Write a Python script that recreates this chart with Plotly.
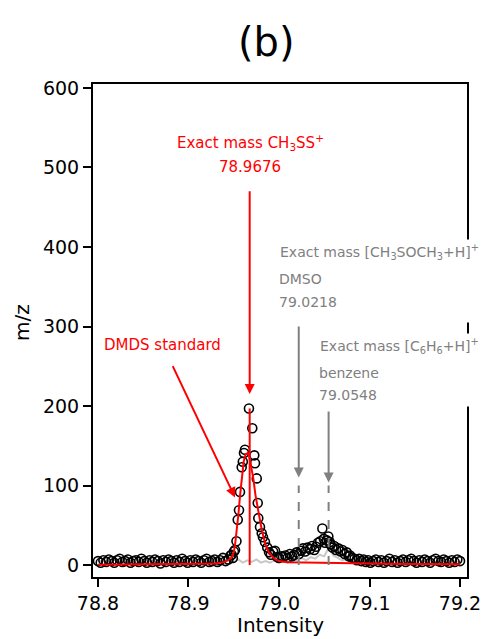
import plotly.graph_objects as go

# ---------------- data ----------------
# measured spectrum (open circles)
meas_mz = [
    78.800, 78.803, 78.806, 78.809, 78.812, 78.815, 78.818, 78.821, 78.824, 78.827,
    78.830, 78.833, 78.836, 78.839, 78.842, 78.845, 78.848, 78.851, 78.854, 78.857,
    78.860, 78.863, 78.866, 78.869, 78.872, 78.875, 78.878, 78.881, 78.884, 78.887,
    78.890, 78.893, 78.896, 78.899, 78.902, 78.905, 78.908, 78.911, 78.914, 78.917,
    78.920, 78.923, 78.926, 78.929, 78.932, 78.935, 78.938, 78.941, 78.944,
    78.9465, 78.9477, 78.9490, 78.9502, 78.9514, 78.9530, 78.9544, 78.9558, 78.9569,
    78.9588, 78.9600, 78.9613, 78.9624, 78.9668, 78.9705, 78.9727, 78.9735, 78.9754,
    78.9765, 78.9771, 78.9790, 78.9809, 78.9823, 78.9845, 78.9870, 78.9890, 78.9910,
    78.9935, 78.9956, 78.9980, 79.0000, 79.0025, 79.0045, 79.0070, 79.0095, 79.0120,
    79.0145, 79.0170, 79.0195, 79.0220, 79.0245, 79.0265, 79.0290, 79.0315, 79.0343,
    79.0365, 79.0390, 79.0410, 79.0431, 79.0455, 79.0479, 79.0495, 79.0508, 79.0530,
    79.0545, 79.0560, 79.0569, 79.0590, 79.0610, 79.0630, 79.0655, 79.0680, 79.0700,
    79.0725, 79.0748, 79.0770, 79.0785, 79.0810, 79.0835, 79.0860, 79.0885, 79.0910,
    79.0935, 79.0960, 79.0985, 79.101, 79.104, 79.107, 79.110, 79.113, 79.116, 79.119,
    79.122, 79.125, 79.128, 79.131, 79.134, 79.137, 79.140, 79.143, 79.146, 79.149,
    79.152, 79.155, 79.158, 79.161, 79.164, 79.167, 79.170, 79.173, 79.176, 79.179,
    79.182, 79.185, 79.188, 79.191, 79.194, 79.197, 79.200,
]
meas_int = [
    5, 3, 6, 4, 7, 5, 3, 6, 8, 4,
    5, 7, 3, 5, 6, 4, 8, 5, 3, 6,
    4, 7, 5, 2, 6, 4, 7, 5, 3, 6,
    4, 8, 5, 3, 6, 4, 7, 5, 3, 6,
    8, 4, 5, 7, 4, 6, 9, 5, 7,
    12, 13, 9, 17, 19, 30, 57, 69, 92,
    123, 130, 141, 145, 197, 172, 138, 128, 109,
    78, 59, 48, 40, 35, 29, 22, 16, 13,
    17, 18, 10, 9, 11, 10, 12, 9, 14,
    11, 13, 16, 14, 18, 21, 17, 22, 20,
    24, 19, 23, 28, 30, 46, 33, 28, 31,
    36, 29, 26, 22, 24, 19, 21, 17, 19,
    14, 16, 11, 12, 9, 8, 6, 8, 5,
    7, 4, 6, 3, 5, 7, 4, 6, 3, 5,
    8, 4, 6, 3, 5, 7, 4, 6, 8, 5,
    3, 6, 4, 7, 5, 3, 6, 8, 5, 4,
    7, 5, 3, 6, 4, 7, 5,
]

# blank / background trace (light gray line)
blank_mz = [
    78.800, 78.805, 78.810, 78.815, 78.820, 78.825, 78.830, 78.835, 78.840, 78.845,
    78.850, 78.855, 78.860, 78.865, 78.870, 78.875, 78.880, 78.885, 78.890, 78.895,
    78.900, 78.905, 78.910, 78.915, 78.920, 78.925, 78.930, 78.935, 78.940, 78.945,
    78.950, 78.955, 78.960, 78.965, 78.970, 78.975, 78.980, 78.985, 78.990, 78.995,
    79.000, 79.005, 79.010, 79.015, 79.020, 79.025, 79.030, 79.035, 79.040, 79.045,
    79.050, 79.055, 79.060, 79.065, 79.070, 79.075, 79.080, 79.085, 79.090, 79.095,
    79.100, 79.105, 79.110, 79.115, 79.120, 79.125, 79.130, 79.135, 79.140, 79.145,
    79.150, 79.155, 79.160, 79.165, 79.170, 79.175, 79.180, 79.185, 79.190, 79.195,
    79.200,
]
blank_int = [
    4, 6, 3, 5, 7, 4, 6, 3, 5, 7,
    4, 6, 3, 5, 6, 4, 7, 3, 5, 6,
    4, 7, 3, 5, 6, 4, 7, 3, 5, 6,
    4, 7, 3, 6, 4, 7, 3, 5, 3, 6,
    3, 7, 4, 8, 5, 9, 6, 10, 8, 13,
    11, 22, 12, 9, 6, 8, 5, 7, 4, 6,
    5, 7, 4, 6, 3, 5, 7, 4, 6, 3,
    5, 7, 4, 6, 3, 5, 7, 4, 6, 3,
    5,
]

# DMDS standard (red line)
dmds_mz = [78.800, 78.850, 78.900, 78.930, 78.940, 78.945, 78.948, 78.950, 78.9514,
           78.953, 78.955, 78.957, 78.959, 78.961, 78.963, 78.9654, 78.967, 78.969,
           78.9716, 78.974, 78.977, 78.980, 78.9827, 78.985, 78.9882, 78.992, 78.996,
           79.000, 79.010, 79.030, 79.060, 79.100, 79.150, 79.200]
dmds_int = [0.5, 1, 1.5, 2, 4, 7, 10, 16, 25,
            40, 62, 88, 112, 130, 139, 141, 137, 125,
            109, 88, 67, 50, 36, 26, 17, 11, 7,
            5, 3.5, 3, 2.5, 2, 1.5, 1]

# exact masses
exact_ch3ss = 78.9676
exact_dmso = 79.0218
exact_benzene = 79.0548
stick_height = 197

x_tick_vals = [78.8, 78.9, 79.0, 79.1, 79.2]
x_tick_text = ["78.8", "78.9", "79.0", "79.1", "79.2"]
y_tick_vals = [0, 100, 200, 300, 400, 500, 600]

# ---------------- figure ----------------
RED = "#ff0000"
GRAY = "#808080"
FONT = "DejaVu Sans"

fig = go.Figure()
fig.add_trace(go.Scatter(x=blank_mz, y=blank_int, mode="lines",
                         line=dict(color="#c8c8c8", width=2), showlegend=False))
fig.add_trace(go.Scatter(x=meas_mz, y=meas_int, mode="markers",
                         marker=dict(symbol="circle-open", size=9, color="black",
                                     line=dict(width=1.6, color="black")),
                         showlegend=False))
fig.add_trace(go.Scatter(x=dmds_mz, y=dmds_int, mode="lines",
                         line=dict(color=RED, width=2), showlegend=False))

# red stick at exact mass of CH3SS+
fig.add_shape(type="line", x0=exact_ch3ss, x1=exact_ch3ss, y0=0, y1=stick_height,
              line=dict(color=RED, width=2))
# dashed gray sticks
for m in (exact_dmso, exact_benzene):
    fig.add_shape(type="line", x0=m, x1=m, y0=0, y1=100,
                  line=dict(color=GRAY, width=2, dash="dash"))

# arrows
def arrow(x, y, ax, ay, color):
    fig.add_annotation(x=x, y=y, ax=ax, ay=ay, xref="x", yref="y", axref="x", ayref="y",
                       text="", showarrow=True, arrowhead=2, arrowsize=1,
                       arrowwidth=2, arrowcolor=color, standoff=0, startstandoff=0)

arrow(exact_ch3ss, 215, exact_ch3ss, 472, RED)
arrow(78.9514, 85, 78.8818, 252, RED)
arrow(exact_dmso, 110, exact_dmso, 302, GRAY)
arrow(exact_benzene, 104, exact_benzene, 195, GRAY)

def text(x, y, s, color, size, xanchor="left", **kw):
    fig.add_annotation(x=x, y=y, xref="x", yref="y", showarrow=False, text=s,
                       font=dict(family=FONT, size=size, color=color),
                       xanchor=xanchor, **kw)

# red labels
text(78.968, 531, "Exact mass CH<sub>3</sub>SS<sup>+</sup>", RED, 15, "center", yanchor="middle")
text(78.968, 500, "78.9676", RED, 15, "center", yanchor="middle")
text(78.8713, 277, "DMDS standard", RED, 15, "center", yanchor="middle")

# gray labels: first line carries the white box that hides the frame behind the block
text(78.9975, 410, "Exact mass [CH<sub>3</sub>SOCH<sub>3</sub>+H]<sup>+</sup>", GRAY, 14,
     yanchor="top", bgcolor="white", borderpad=2, height=78, valign="top")
text(78.9978, 360, "DMSO", GRAY, 14, yanchor="middle")
text(78.9978, 331, "79.0218", GRAY, 14, yanchor="middle")

text(79.0418, 292, "Exact mass [C<sub>6</sub>H<sub>6</sub>+H]<sup>+</sup>", GRAY, 14,
     yanchor="top", bgcolor="white", borderpad=2, height=68, valign="top")
text(79.0420, 242, "benzene", GRAY, 14, yanchor="middle")
text(79.0420, 214, "79.0548", GRAY, 14, yanchor="middle")

# title and axis labels
fig.add_annotation(x=0.465, y=1.085, xref="paper", yref="paper", showarrow=False,
                   text="(b)", font=dict(family=FONT, size=40, color="black"),
                   xanchor="center", yanchor="middle")
fig.add_annotation(x=0.5, y=-0.097, xref="paper", yref="paper", showarrow=False,
                   text="Intensity", font=dict(family=FONT, size=20, color="black"),
                   xanchor="center", yanchor="middle")
fig.add_annotation(x=-0.19, y=0.517, xref="paper", yref="paper", showarrow=False,
                   text="m/z", textangle=-90, font=dict(family=FONT, size=20, color="black"),
                   xanchor="center", yanchor="middle")

axis_common = dict(showline=True, mirror=True, linecolor="black", linewidth=2,
                   ticks="outside", ticklen=8, tickwidth=2, tickcolor="black",
                   showgrid=False, zeroline=False,
                   tickfont=dict(family=FONT, size=19, color="black"))

fig.update_xaxes(range=[78.7945, 79.2077], tickvals=x_tick_vals, ticktext=x_tick_text,
                 **axis_common)
fig.update_yaxes(range=[-15, 605], tickvals=y_tick_vals, **axis_common)

# page body has an 8px margin, so the figure is drawn 8px smaller and offset
fig.update_layout(width=484, height=631, margin=dict(l=85, r=25, t=76, b=62),
                  plot_bgcolor="white", paper_bgcolor="white",
                  font=dict(family=FONT))

fig.write_html("out.html")
